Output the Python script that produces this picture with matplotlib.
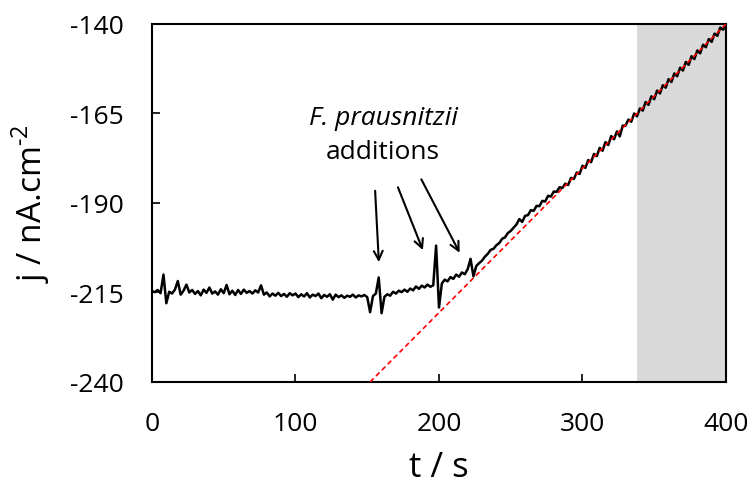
import numpy as np
import matplotlib.pyplot as plt

# --------------------------
# 数据
# --------------------------
t = np.arange(0, 401, 2)
j = [
    -214.6, -214.9, -214.3, -215.2, -210.0, -218.0, -214.8, -215.3, -214.2, -211.8,
    -215.6, -214.5, -212.8, -215.0, -214.3, -215.4, -214.6, -215.8, -214.2, -215.1,
    -213.6, -215.3, -214.7, -215.6, -214.1, -215.2, -212.9, -215.5, -214.5, -215.7,
    -214.3, -215.4, -214.2, -215.1, -214.6, -215.3, -214.4, -215.0, -213.0, -215.6,
    -215.0, -216.1, -215.3, -215.9, -215.1, -216.0, -215.4, -216.2, -215.2, -215.8,
    -215.3, -216.3, -215.5, -216.1, -215.2, -216.4, -215.6, -216.0, -215.3, -216.6,
    -215.7, -216.2, -215.5, -217.0, -215.6, -216.3, -215.8, -216.5, -215.9, -216.2,
    -215.6, -216.4, -215.8, -216.1, -215.7, -216.3, -220.5, -216.0, -215.3, -210.8,
    -220.8, -216.2, -215.5, -215.9, -214.8, -215.3, -214.5, -214.9, -214.2, -214.8,
    -213.9, -214.4, -213.3, -214.0, -213.1, -213.6, -212.8, -213.4, -213.0, -201.9,
    -219.2, -212.5, -211.4, -211.9, -210.7, -211.2, -210.0, -210.6, -209.4, -209.9,
    -208.5, -205.6, -210.5, -207.6, -206.8, -206.1, -205.0, -204.2, -203.1, -202.8,
    -201.8, -201.2, -200.0, -199.6, -198.4, -197.8, -196.9, -196.0, -194.5, -195.3,
    -193.6, -193.4, -192.0, -192.2, -190.8, -190.9, -189.4, -189.6, -188.0, -188.2,
    -186.8, -186.9, -185.6, -185.8, -184.6, -185.0, -183.0, -183.3, -181.5, -181.9,
    -179.6, -180.2, -178.0, -178.6, -176.3, -176.9, -174.6, -175.4, -173.0, -173.8,
    -171.3, -172.2, -170.0, -171.4, -168.4, -168.4, -166.7, -167.3, -165.0, -165.8,
    -163.6, -164.2, -161.8, -162.6, -160.2, -161.0, -158.6, -159.4, -157.1, -157.8,
    -155.4, -156.2, -153.8, -154.6, -152.2, -153.0, -150.6, -151.4, -149.0, -149.8,
    -147.4, -148.2, -145.8, -146.5, -144.2, -145.0, -142.7, -143.3, -141.0, -141.6,
    -140.3,
]

fit_t = [152, 400]
fit_j = [-240, -140]

shade_range = (338, 400)

x_ticks = [0, 100, 200, 300, 400]
y_ticks = [-240, -215, -190, -165, -140]

# 箭头：(起点t, 起点j, 终点t, 终点j)
arrows = [
    (155.4, -185.8, 158.2, -207.3),
    (170.7, -184.9, 189.5, -203.9),
    (186.8, -182.7, 215.3, -204.6),
]

# --------------------------
# 绘图
# --------------------------
plt.rcParams['font.family'] = ['Open Sans', 'DejaVu Sans']
plt.rcParams['axes.unicode_minus'] = False
plt.rcParams['mathtext.fontset'] = 'custom'
plt.rcParams['mathtext.rm'] = 'Open Sans'

fig = plt.figure(figsize=(7.52, 4.89), dpi=100)
ax = fig.add_axes([0.2021, 0.2168, 0.7633, 0.7321])

ax.axvspan(*shade_range, color='#d9d9d9', lw=0, zorder=0)
ax.plot(t, j, color='black', linewidth=1.8, zorder=2)
ax.plot(fit_t, fit_j, color='#ff0000', linestyle=(0, (3, 2)), linewidth=1.2, zorder=3)

for x0, y0, x1, y1 in arrows:
    ax.annotate('', xy=(x1, y1), xytext=(x0, y0),
                arrowprops=dict(arrowstyle='->', color='black', lw=1.5, mutation_scale=16))

ax.text(161, -166, 'F. prausnitzii', style='italic', fontsize=19, ha='center', va='center')
ax.text(161, -175.5, 'additions', fontsize=19, ha='center', va='center')

ax.set_xlim(0, 400)
ax.set_ylim(-240, -140)
ax.set_xticks(x_ticks)
ax.set_yticks(y_ticks)
ax.tick_params(direction='in', length=6, width=1.2, labelsize=19)
ax.tick_params(axis='x', pad=21)
ax.tick_params(axis='y', pad=20)
for s in ax.spines.values():
    s.set_linewidth(1.5)

ax.set_xlabel('t / s', fontsize=25, labelpad=10)
ax.set_ylabel(r'j / nA.cm$^{\text{-}2}$', fontsize=24, labelpad=13)

plt.savefig('out.png', dpi=100)
plt.close()
